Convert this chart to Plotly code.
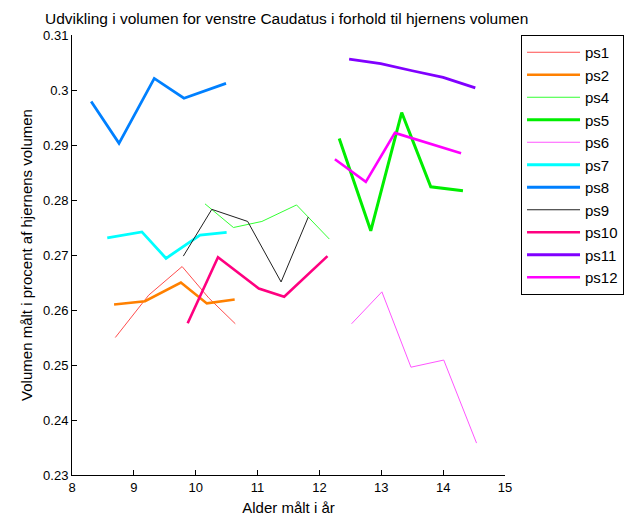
import plotly.graph_objects as go

names = ["ps1", "ps2", "ps4", "ps5", "ps6", "ps7", "ps8", "ps9", "ps10", "ps11", "ps12"]

ps1_x = [8.70, 9.24, 9.78, 10.21, 10.64]
ps1_y = [0.2550, 0.2627, 0.2679, 0.2622, 0.2575]
ps2_x = [8.68, 9.18, 9.76, 10.18, 10.63]
ps2_y = [0.2610, 0.2616, 0.2650, 0.2612, 0.2619]
ps4_x = [10.15, 10.61, 11.07, 11.63, 12.16]
ps4_y = [0.2793, 0.2750, 0.2761, 0.2791, 0.2729]
ps5_x = [12.32, 12.83, 13.33, 13.80, 14.32]
ps5_y = [0.2912, 0.2744, 0.2959, 0.2824, 0.2817]
ps6_x = [12.52, 13.01, 13.48, 14.01, 14.54]
ps6_y = [0.2575, 0.2633, 0.2496, 0.2509, 0.2358]
ps7_x = [8.57, 9.13, 9.52, 10.07, 10.50]
ps7_y = [0.2731, 0.2742, 0.2694, 0.2736, 0.2741]
ps8_x = [8.31, 8.76, 9.33, 9.81, 10.49]
ps8_y = [0.2979, 0.2903, 0.3021, 0.2985, 0.3012]
ps9_x = [9.80, 10.26, 10.84, 11.38, 11.82]
ps9_y = [0.2698, 0.2783, 0.2761, 0.2651, 0.2769]
ps10_x = [9.87, 10.36, 11.02, 11.43, 12.13]
ps10_y = [0.2576, 0.2696, 0.2639, 0.2624, 0.2698]
ps11_x = [12.48, 12.99, 13.50, 14.00, 14.52]
ps11_y = [0.3056, 0.3048, 0.3035, 0.3023, 0.3004]
ps12_x = [12.25, 12.75, 13.22, 14.29]
ps12_y = [0.2874, 0.2833, 0.2922, 0.2885]

x_tickvals = [8, 9, 10, 11, 12, 13, 14, 15]
x_ticktext = ["8", "9", "10", "11", "12", "13", "14", "15"]
y_tickvals = [0.23, 0.24, 0.25, 0.26, 0.27, 0.28, 0.29, 0.30, 0.31]
y_ticktext = ["0.23", "0.24", "0.25", "0.26", "0.27", "0.28", "0.29", "0.3", "0.31"]

series = [
    (ps1_x, ps1_y, "#ff4d4d", 1.0),
    (ps2_x, ps2_y, "#ff8000", 2.6),
    (ps4_x, ps4_y, "#33ff33", 1.0),
    (ps5_x, ps5_y, "#00ee00", 3.0),
    (ps6_x, ps6_y, "#ff55ff", 1.0),
    (ps7_x, ps7_y, "#00ffff", 2.8),
    (ps8_x, ps8_y, "#0080ff", 2.8),
    (ps9_x, ps9_y, "#202020", 1.0),
    (ps10_x, ps10_y, "#ff0080", 2.6),
    (ps11_x, ps11_y, "#8000ff", 2.8),
    (ps12_x, ps12_y, "#ff00ff", 2.6),
]

fig = go.Figure()
for name, (xs, ys, col, w) in zip(names, series):
    fig.add_trace(go.Scatter(x=xs, y=ys, mode="lines", name=name,
                             line=dict(color=col, width=w)))

font_family = "Liberation Sans, Arial, sans-serif"
fig.update_layout(
    width=626, height=518,
    margin=dict(l=72, r=121, t=35, b=43, autoexpand=False),
    paper_bgcolor="white", plot_bgcolor="white",
    font=dict(family=font_family, size=13, color="black"),
    title=dict(text="Udvikling i volumen for venstre Caudatus i forhold til hjernens volumen",
               x=0.458, xanchor="center", y=0.965, yanchor="middle",
               font=dict(size=15.5, family=font_family)),
    showlegend=True,
    legend=dict(x=1.037, y=1.0, xanchor="left", yanchor="top",
                bordercolor="black", borderwidth=1, bgcolor="white",
                font=dict(size=15, family=font_family),
                tracegroupgap=0, itemwidth=53),
    xaxis=dict(range=[8, 15], tickvals=x_tickvals, ticktext=x_ticktext,
               showgrid=False, zeroline=False, showline=True, linecolor="black",
               linewidth=1, ticks="inside", ticklen=5, tickcolor="black",
               title=dict(text="Alder målt i år", standoff=8, font=dict(size=15))),
    yaxis=dict(range=[0.23, 0.31], tickvals=y_tickvals, ticktext=y_ticktext,
               showgrid=False, zeroline=False, showline=True, linecolor="black",
               linewidth=1, ticks="inside", ticklen=5, tickcolor="black",
               title=dict(text="Volumen målt i procent af hjernens volumen", standoff=6,
                          font=dict(size=15))),
)

fig.write_html("out.html")
